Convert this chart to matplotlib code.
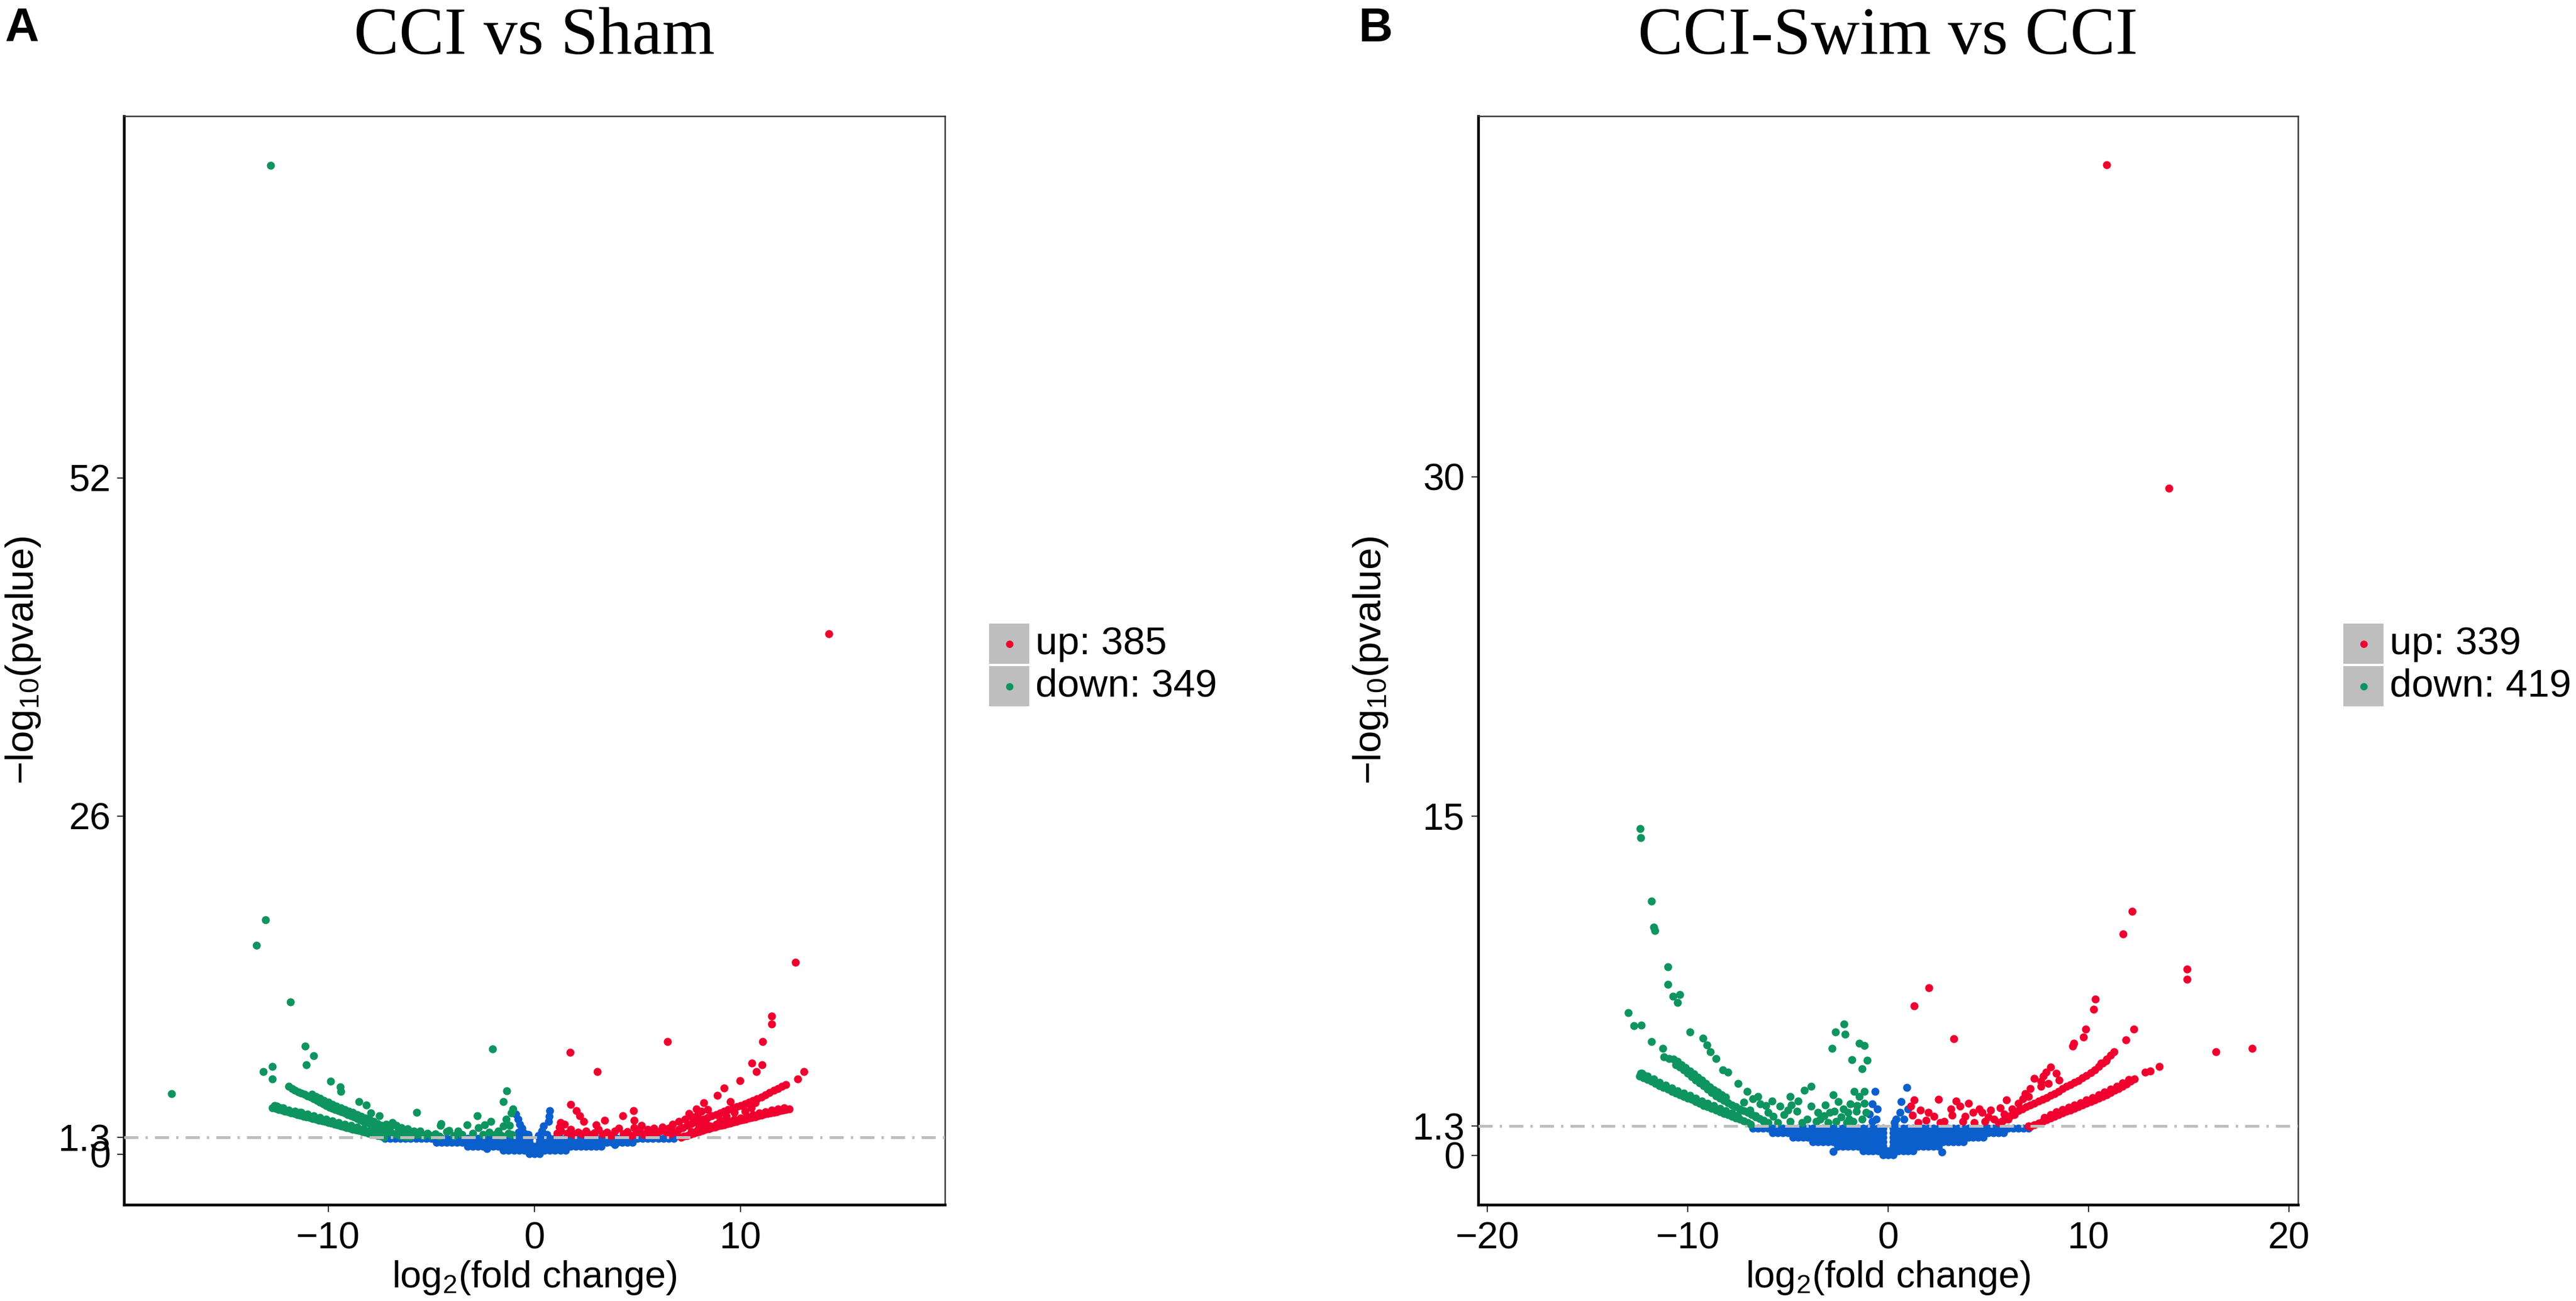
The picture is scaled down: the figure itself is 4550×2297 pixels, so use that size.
import matplotlib
matplotlib.use("Agg")
import matplotlib.pyplot as plt
from matplotlib.patches import Rectangle
from matplotlib.lines import Line2D

plt.rcParams['font.family'] = ['Liberation Sans', 'DejaVu Sans']
plt.rcParams['mathtext.fontset'] = 'custom'
plt.rcParams['mathtext.rm'] = 'Liberation Sans'
plt.rcParams['mathtext.it'] = 'Liberation Sans:italic'
plt.rcParams['mathtext.default'] = 'regular'
plt.rcParams['lines.scale_dashes'] = False

# colours of the three groups
UP = "#F0002E"
DOWN = "#0E945F"
NS = "#0A5FCD"

titles = ["CCI vs Sham", "CCI-Swim vs CCI"]
panel_tags = ["A", "B"]
up_counts = [385, 339]
down_counts = [349, 419]
threshold = 1.3

# ---------------- panel A : CCI vs Sham ----------------
xticks_a = [-10, 0, 10]
xlabels_a = ["\u221210", "0", "10"]
yticks_a = [0, 1.3, 26, 52]
ylabels_a = ["0", "1.3", "26", "52"]

down_a = [(-12.8, 76.0), (-13.03, 18.04), (-13.48, 16.04), (-11.84, 11.69), (-17.59, 4.66),
          (-11.11, 8.33), (-10.7, 7.57), (-11.06, 6.86), (-13.15, 6.33), (-12.72, 6.76),
          (-12.7, 5.79), (-9.89, 5.61), (-9.41, 5.16), (-9.38, 4.83), (-2.03, 8.09),
          (-1.34, 4.86), (-1.5, 4.04), (-5.7, 3.21), (-2.77, 2.97), (-2.12, 2.54),
          (-4.53, 2.33), (-3.28, 2.26), (-8.52, 4.04), (-8.15, 3.79), (-7.94, 3.19),
          (-7.51, 2.97), (-1.05, 3.47), (-1.38, 2.69),
          (-7.2, 2.3), (-7.0, 2.1), (-6.9, 2.45), (-6.7, 2.2), (-6.6, 1.9), (-6.45, 2.05),
          (-6.3, 1.75), (-6.15, 1.95), (-6.0, 1.6), (-5.85, 1.8), (-5.7, 1.5), (-5.55, 1.76),
          (-5.4, 1.45), (-5.2, 1.6), (-5.0, 1.42), (-4.8, 1.55), (-4.6, 1.4), (-4.14, 1.83),
          (-3.71, 1.76), (-3.9, 1.45), (-3.5, 1.5), (-3.0, 1.6), (-2.73, 2.04), (-2.5, 1.5),
          (-2.42, 2.26), (-2.2, 1.7), (-1.9, 1.5), (-1.75, 1.76), (-1.6, 1.45), (-1.5, 2.19),
          (-1.25, 1.6), (-1.13, 3.19), (-1.2, 2.2), (-1.1, 1.5), (-4.56, 2.22), (-4.25, 1.75)]

down_a_band_lo = [(-12.7, 3.56), (-12.55, 3.5), (-12.4, 3.43), (-12.25, 3.37), (-12.1, 3.31),
                  (-11.95, 3.25), (-11.8, 3.18), (-11.65, 3.12), (-11.5, 3.06), (-11.35, 3.0),
                  (-11.2, 2.93), (-11.05, 2.87), (-10.9, 2.81), (-10.75, 2.75), (-10.6, 2.68),
                  (-10.45, 2.62), (-10.3, 2.56), (-10.15, 2.5), (-10.0, 2.43), (-9.85, 2.37),
                  (-9.7, 2.31), (-9.55, 2.25), (-9.4, 2.18), (-9.25, 2.12), (-9.1, 2.06),
                  (-8.95, 2.0), (-8.8, 1.93), (-8.65, 1.87), (-8.5, 1.81), (-8.35, 1.75),
                  (-8.2, 1.68), (-8.05, 1.62), (-7.9, 1.56), (-7.75, 1.5), (-7.6, 1.43),
                  (-7.45, 1.37), (-7.3, 1.31), (-12.6, 3.72), (-12.3, 3.58), (-11.9, 3.4),
                  (-11.4, 3.2),
                  (-12.5, 3.7), (-12.2, 3.57), (-11.6, 3.32), (-11.3, 3.2), (-11.0, 3.07),
                  (-10.7, 2.95), (-10.4, 2.82), (-10.1, 2.7), (-9.8, 2.57), (-9.5, 2.45),
                  (-9.2, 2.32), (-8.9, 2.2), (-8.6, 2.07), (-8.3, 1.95), (-8.0, 1.82),
                  (-7.7, 1.7)]

down_a_band_hi = [(-11.9, 5.22), (-11.75, 5.06), (-11.6, 4.92), (-11.45, 4.77), (-11.3, 4.68),
                  (-11.15, 4.59), (-11.0, 4.5), (-10.85, 4.38), (-10.7, 4.25), (-10.55, 4.12),
                  (-10.4, 3.99), (-10.25, 3.87), (-10.1, 3.75), (-9.95, 3.63), (-9.8, 3.51),
                  (-9.65, 3.42), (-9.5, 3.34), (-9.35, 3.26), (-9.2, 3.17), (-9.05, 3.06),
                  (-8.9, 2.96), (-8.75, 2.85), (-8.6, 2.75), (-8.45, 2.64), (-8.3, 2.54),
                  (-8.15, 2.43), (-8.0, 2.33), (-7.85, 2.22), (-7.7, 2.12), (-7.55, 2.01),
                  (-7.4, 1.91), (-7.25, 1.81), (-7.1, 1.72), (-6.95, 1.63), (-6.8, 1.55),
                  (-6.65, 1.5), (-6.5, 1.45), (-6.35, 1.4), (-6.2, 1.36), (-6.05, 1.33),
                  (-10.8, 4.62), (-10.6, 4.45), (-10.4, 4.3), (-10.2, 4.15), (-10.0, 4.0),
                  (-9.8, 3.82), (-9.6, 3.7), (-9.4, 3.58), (-9.2, 3.45), (-9.0, 3.32),
                  (-8.8, 3.2), (-8.6, 3.05), (-8.4, 2.92), (-8.2, 2.78), (-8.0, 2.63),
                  (-7.8, 2.5), (-7.6, 2.36), (-7.4, 2.2), (-7.2, 2.08)]

up_a = [(14.26, 40.0), (12.66, 14.76), (11.5, 10.61), (11.5, 10.01), (11.07, 8.64),
        (6.44, 8.66), (1.72, 7.83), (3.04, 6.33), (10.55, 7.01), (11.04, 6.86),
        (10.77, 6.33), (13.07, 6.33), (12.76, 5.79), (9.96, 5.64), (9.2, 5.11),
        (8.86, 4.54), (1.76, 3.83), (2.03, 3.33), (2.19, 2.97), (3.4, 2.61), (4.27, 2.97),
        (4.79, 3.33), (4.83, 2.61), (4.83, 2.04), (9.51, 4.04), (8.22, 3.97), (7.85, 3.47),
        (10.71, 3.97),
        (1.1, 1.6), (1.2, 2.1), (1.3, 1.8), (1.45, 2.3), (1.6, 1.6), (1.75, 1.9), (1.9, 1.5),
        (2.1, 1.7), (2.3, 1.55), (2.5, 1.8), (2.7, 1.5), (2.9, 1.65), (3.1, 1.9), (3.3, 1.55),
        (3.5, 1.7), (3.7, 1.45), (3.9, 1.8), (4.1, 2.0), (4.3, 1.55), (4.5, 1.75), (4.7, 1.45),
        (4.9, 1.6), (5.1, 1.8), (5.3, 1.5), (5.5, 1.9), (5.6, 1.65), (5.8, 2.0), (5.9, 1.6),
        (6.1, 1.8), (6.2, 2.1), (6.4, 1.7), (6.5, 2.0), (6.6, 1.55), (6.7, 2.3), (6.9, 1.7),
        (7.0, 2.5), (7.3, 2.7), (7.6, 2.9), (7.5, 3.15), (7.9, 3.0), (8.1, 3.3), (8.4, 3.45),
        (8.0, 2.2), (8.3, 2.45), (9.0, 2.6), (9.3, 2.9), (9.7, 3.2), (10.2, 3.3), (10.5, 3.55),
        (5.2, 2.2), (3.0, 2.25), (2.4, 2.5), (1.25, 2.45)]

up_a_band_lo = [(7.1, 1.3), (7.25, 1.38), (7.4, 1.45), (7.55, 1.53), (7.7, 1.6), (7.85, 1.68),
                (8.0, 1.75), (8.15, 1.82), (8.3, 1.89), (8.45, 1.96), (8.6, 2.03), (8.75, 2.1),
                (8.9, 2.16), (9.05, 2.22), (9.2, 2.28), (9.35, 2.34), (9.5, 2.4), (9.65, 2.46),
                (9.8, 2.53), (9.95, 2.59), (10.1, 2.65), (10.25, 2.71), (10.4, 2.77),
                (10.55, 2.83), (10.7, 2.89), (10.85, 2.95), (11.0, 3.01), (11.15, 3.07),
                (11.3, 3.13), (11.45, 3.18), (11.6, 3.23), (11.75, 3.28), (11.9, 3.33),
                (12.05, 3.38), (12.2, 3.43), (12.35, 3.48),
                (7.6, 1.72), (7.9, 1.88), (8.2, 2.03), (8.5, 2.17), (8.8, 2.3), (9.1, 2.42),
                (9.4, 2.55), (9.7, 2.68), (10.0, 2.8), (10.3, 2.92), (10.6, 3.04),
                (10.9, 3.16), (11.2, 3.28), (11.5, 3.38), (11.8, 3.48), (12.1, 3.58)]

up_a_band_hi = [(6.8, 1.75), (7.0, 1.9), (7.2, 2.05), (7.4, 2.2), (7.6, 2.35), (7.8, 2.47),
                (8.0, 2.59), (8.2, 2.71), (8.4, 2.83), (8.6, 2.95), (8.8, 3.06), (9.0, 3.18),
                (9.2, 3.3), (9.4, 3.42), (9.6, 3.53), (9.8, 3.65), (10.0, 3.76), (10.2, 3.89),
                (10.4, 4.02), (10.6, 4.15), (10.8, 4.28), (11.0, 4.41), (11.2, 4.58),
                (11.4, 4.74), (11.6, 4.9), (11.8, 5.05), (12.0, 5.2), (12.2, 5.36)]

# non-significant cloud, read row by row (y level, x positions)
ns_a_rows = [
    (1.2, [-7.25, -7.0, -6.75, -6.5, -6.25, -6.0, -5.75, -5.5, -5.25, -5.0, -4.75, -4.5,
           -4.25, -4.0, -3.75, -3.5, -3.25, -3.0, -2.75, -2.5, -2.25, -2.0, -1.75, -1.5,
           -1.25, -1.0, -0.75, -0.5, -0.25, 0.25, 0.5, 0.75, 1.0, 1.25, 1.5, 1.75, 2.0,
           2.25, 2.5, 2.75, 3.0, 3.25, 3.5, 3.75, 4.0, 4.25, 4.5, 4.75, 5.0, 5.25, 5.5,
           5.75, 6.0, 6.25, 6.5, 6.75]),
    (0.9, [-4.75, -4.5, -4.25, -4.0, -3.75, -3.5, -3.25, -3.0, -2.75, -2.5, -2.25, -2.0,
           -1.75, -1.5, -1.25, -1.0, -0.75, -0.5, -0.25, 0.25, 0.5, 0.75, 1.0, 1.25, 1.5,
           1.75, 2.0, 2.25, 2.5, 2.75, 3.0, 3.25, 3.5, 3.75, 4.0, 4.25, 4.5, 4.75]),
    (0.6, [-3.25, -3.0, -2.75, -2.5, -2.25, -2.0, -1.75, -1.5, -1.25, -1.0, -0.75, -0.5,
           -0.25, 0.0, 0.25, 0.5, 0.75, 1.0, 1.25, 1.5, 1.75, 2.0, 2.25, 2.5, 2.75, 3.0,
           3.25]),
    (0.3, [-1.5, -1.25, -1.0, -0.75, -0.5, -0.25, 0.0, 0.25, 0.5, 0.75, 1.0, 1.25, 1.5]),
    (0.05, [-0.25, 0.0, 0.25]),
]
ns_a_extra = [(-0.9, 3.1), (-0.8, 2.7), (-0.7, 2.3), (-0.6, 2.0), (-0.77, 1.7), (-0.5, 1.6),
              (-0.89, 1.4), (0.74, 3.35), (0.7, 2.9), (0.68, 2.5), (0.44, 2.19), (0.37, 1.76),
              (0.6, 1.5), (-0.3, 1.5), (0.2, 1.45), (-2.3, 0.45), (3.9, 0.75)]

# ---------------- panel B : CCI-Swim vs CCI ----------------
xticks_b = [-20, -10, 0, 10, 20]
xlabels_b = ["\u221220", "\u221210", "0", "10", "20"]
yticks_b = [0, 1.3, 15, 30]
ylabels_b = ["0", "1.3", "15", "30"]

down_b = [(-12.38, 14.46), (-12.35, 14.05), (-11.81, 11.24), (-11.7, 10.08), (-11.65, 9.95),
          (-11.0, 8.34), (-11.0, 7.56), (-10.73, 7.03), (-10.4, 7.11), (-10.51, 6.77),
          (-12.96, 6.3), (-12.68, 5.74), (-12.31, 5.77), (-11.81, 5.04), (-9.88, 5.46),
          (-9.23, 5.18), (-9.04, 4.87), (-8.87, 4.57), (-8.58, 4.27), (-8.26, 3.79),
          (-8.0, 3.68), (-7.48, 3.17), (-11.25, 4.74), (-11.18, 4.35), (-10.92, 4.29),
          (-7.02, 2.84), (-6.76, 2.5), (-6.37, 2.28), (-5.98, 1.89), (-5.73, 1.72),
          (-5.4, 2.17), (-4.88, 2.61), (-4.82, 2.22), (-4.56, 1.94), (-4.17, 2.89),
          (-3.84, 3.06), (-3.84, 2.17), (-4.04, 1.61), (-3.39, 1.61), (-3.13, 2.22),
          (-2.8, 4.74), (-2.63, 5.46), (-2.19, 5.8), (-2.15, 5.35), (-2.74, 2.67),
          (-2.48, 2.39), (-2.22, 2.05), (-2.67, 1.94), (-1.44, 4.96), (-1.18, 4.85),
          (-1.8, 4.23), (-1.05, 4.2), (-1.31, 3.84), (-1.7, 2.84), (-1.18, 2.84),
          (-1.44, 2.61), (-1.89, 2.28), (-1.57, 1.94), (-1.96, 1.61),
          (-6.2, 1.5), (-5.5, 1.45), (-5.2, 1.8), (-4.9, 1.5), (-4.3, 1.45), (-3.6, 1.5),
          (-3.2, 1.75), (-3.0, 1.45), (-2.9, 1.9), (-2.6, 1.5), (-2.35, 1.7), (-2.05, 1.45),
          (-1.75, 1.5), (-1.55, 2.2), (-1.3, 1.6), (-1.1, 1.9), (-1.2, 2.3), (-2.0, 1.9),
          (-3.5, 1.9), (-4.5, 2.4), (-5.0, 2.0), (-6.6, 1.75), (-6.9, 2.0), (-7.2, 2.35),
          (-6.5, 2.6), (-6.1, 2.2), (-5.8, 2.4)]

down_b_band_lo = [(-12.4, 3.5), (-12.2, 3.43), (-12.0, 3.35), (-11.8, 3.27), (-11.6, 3.18),
                  (-11.4, 3.09), (-11.2, 3.0), (-11.0, 2.92), (-10.8, 2.83), (-10.6, 2.75),
                  (-10.4, 2.68), (-10.2, 2.61), (-10.0, 2.54), (-9.8, 2.47), (-9.6, 2.38),
                  (-9.4, 2.29), (-9.2, 2.21), (-9.0, 2.14), (-8.8, 2.07), (-8.6, 2.0),
                  (-8.4, 1.93), (-8.2, 1.86), (-8.0, 1.79), (-7.8, 1.72), (-7.6, 1.66),
                  (-7.4, 1.59), (-7.2, 1.53), (-7.0, 1.45), (-6.85, 1.38), (-12.35, 3.62),
                  (-12.2, 3.55),
                  (-12.3, 3.62), (-12.0, 3.5), (-11.7, 3.38), (-11.4, 3.24), (-11.1, 3.1),
                  (-10.8, 2.98), (-10.5, 2.86), (-10.2, 2.76), (-9.9, 2.65), (-9.6, 2.53),
                  (-9.3, 2.4), (-9.0, 2.29), (-8.7, 2.19), (-8.4, 2.08), (-8.1, 1.97),
                  (-7.8, 1.87), (-7.5, 1.77)]

down_b_band_hi = [(-10.6, 4.01), (-10.4, 3.9), (-10.2, 3.77), (-10.0, 3.63), (-9.8, 3.47),
                  (-9.6, 3.33), (-9.4, 3.2), (-9.2, 3.07), (-9.0, 2.93), (-8.8, 2.77),
                  (-8.6, 2.62), (-8.4, 2.52), (-8.2, 2.42), (-8.0, 2.32), (-7.8, 2.23),
                  (-7.6, 2.14), (-7.4, 2.05), (-7.2, 1.97), (-7.0, 1.89), (-6.8, 1.8),
                  (-6.6, 1.71), (-6.4, 1.62), (-6.2, 1.54), (-6.0, 1.46),
                  (-10.7, 4.25), (-10.5, 4.15), (-10.3, 4.0), (-10.1, 3.88), (-9.9, 3.74),
                  (-9.7, 3.6), (-9.5, 3.46), (-9.3, 3.32), (-9.1, 3.18), (-8.9, 3.04),
                  (-8.7, 2.9), (-8.5, 2.8), (-8.3, 2.68), (-8.1, 2.58)]

up_b = [(10.9, 43.8), (14.0, 29.5), (12.17, 10.8), (11.71, 9.8), (14.9, 8.24), (14.92, 7.78),
        (10.35, 6.92), (10.24, 6.45), (2.03, 7.4), (1.29, 6.62), (3.29, 5.16), (9.85, 5.58),
        (9.74, 5.22), (9.27, 4.96), (9.2, 4.82), (12.27, 5.58), (11.87, 5.11), (16.36, 4.59),
        (18.17, 4.74), (13.53, 3.92), (12.82, 3.68), (13.08, 3.73), (11.26, 4.57),
        (10.87, 4.18), (10.61, 4.09),
        (6.84, 2.73), (7.1, 2.95), (7.62, 3.06), (7.88, 3.68), (7.62, 3.28), (8.0, 3.17),
        (8.4, 3.62), (8.53, 3.34), (6.71, 2.5), (6.19, 2.05), (5.8, 1.83), (5.28, 1.61),
        (7.3, 3.4), (7.0, 2.6), (8.1, 3.9), (7.75, 3.5),
        (1.31, 2.45), (1.12, 2.17), (1.21, 1.78), (1.9, 1.55), (2.51, 2.48), (2.29, 1.72),
        (3.13, 2.05), (3.2, 1.78), (3.59, 2.17), (3.85, 1.72), (4.24, 1.89), (4.56, 2.05),
        (4.69, 1.89), (4.82, 1.5), (2.81, 1.5), (3.72, 1.5), (1.5, 1.45), (2.0, 1.9),
        (4.3, 1.45), (5.0, 1.7), (5.5, 1.45), (5.1, 2.0), (4.0, 2.3), (3.4, 2.4), (1.6, 2.0),
        (2.6, 1.45), (5.6, 2.1), (6.0, 1.6), (6.3, 1.8), (6.5, 2.3), (5.9, 2.45)]

up_b_band_hi = [(5.7, 1.52), (5.9, 1.64), (6.1, 1.76), (6.3, 1.88), (6.5, 1.97), (6.7, 2.05),
                (6.9, 2.14), (7.1, 2.22), (7.3, 2.31), (7.5, 2.4), (7.7, 2.48), (7.9, 2.56),
                (8.1, 2.65), (8.3, 2.73), (8.5, 2.84), (8.7, 2.95), (8.9, 3.05), (9.1, 3.14),
                (9.3, 3.22), (9.5, 3.31), (9.7, 3.42), (9.9, 3.54), (10.1, 3.66),
                (10.3, 3.79), (10.5, 3.93), (10.7, 4.08), (10.9, 4.26), (11.1, 4.44)]

up_b_band_lo = [(7.0, 1.3), (7.1, 1.28), (7.3, 1.36), (7.5, 1.43), (7.7, 1.5), (7.9, 1.58),
                (8.1, 1.66), (8.3, 1.73), (8.5, 1.8), (8.7, 1.87), (8.9, 1.94), (9.1, 2.01),
                (9.3, 2.08), (9.5, 2.15), (9.7, 2.22), (9.9, 2.3), (10.1, 2.37), (10.3, 2.45),
                (10.5, 2.53), (10.7, 2.61), (10.9, 2.69), (11.1, 2.78), (11.3, 2.87),
                (11.5, 2.95), (11.7, 3.05), (11.9, 3.16), (12.1, 3.27), (12.3, 3.39),
                (7.8, 1.68), (8.1, 1.8), (8.4, 1.92), (8.7, 2.02), (9.0, 2.12), (9.3, 2.23),
                (9.6, 2.33), (9.9, 2.45), (10.2, 2.56), (10.5, 2.68), (10.8, 2.8),
                (11.1, 2.93), (11.4, 3.06), (11.7, 3.2), (12.0, 3.35)]

ns_b_rows = [
    (1.2, [-6.75, -6.5, -6.25, -6.0, -5.75, -5.5, -5.25, -5.0, -4.75, -4.5, -4.25, -4.0,
           -3.75, -3.5, -3.25, -3.0, -2.75, -2.5, -2.25, -2.0, -1.75, -1.5, -1.25, -1.0,
           -0.75, -0.5, -0.25, 0.25, 0.5, 0.75, 1.0, 1.25, 1.5, 1.75, 2.0, 2.25, 2.5, 2.75,
           3.0, 3.25, 3.5, 3.75, 4.0, 4.25, 4.5, 4.75, 5.0, 5.25, 5.5, 5.75, 6.0, 6.25,
           6.5, 6.75, 7.0]),
    (1.0, [-5.75, -5.5, -5.25, -5.0, -4.75, -4.5, -4.25, -4.0, -3.75, -3.5, -3.25, -3.0,
           -2.75, -2.5, -2.25, -2.0, -1.75, -1.5, -1.25, -1.0, -0.75, -0.5, -0.25, 0.25,
           0.5, 0.75, 1.0, 1.25, 1.5, 1.75, 2.0, 2.25, 2.5, 2.75, 3.0, 3.25, 3.5, 3.75,
           4.0, 4.25, 4.5, 4.75, 5.0, 5.25, 5.5, 5.75]),
    (0.8, [-4.75, -4.5, -4.25, -4.0, -3.75, -3.5, -3.25, -3.0, -2.75, -2.5, -2.25, -2.0,
           -1.75, -1.5, -1.25, -1.0, -0.75, -0.5, -0.25, 0.25, 0.5, 0.75, 1.0, 1.25, 1.5,
           1.75, 2.0, 2.25, 2.5, 2.75, 3.0, 3.25, 3.5, 3.75, 4.0, 4.25, 4.5, 4.75]),
    (0.6, [-3.75, -3.5, -3.25, -3.0, -2.75, -2.5, -2.25, -2.0, -1.75, -1.5, -1.25, -1.0,
           -0.75, -0.5, -0.25, 0.25, 0.5, 0.75, 1.0, 1.25, 1.5, 1.75, 2.0, 2.25, 2.5,
           2.75, 3.0, 3.25, 3.5, 3.75]),
    (0.4, [-2.5, -2.25, -2.0, -1.75, -1.5, -1.25, -1.0, -0.75, -0.5, -0.25, 0.25, 0.5,
           0.75, 1.0, 1.25, 1.5, 1.75, 2.0, 2.25, 2.5]),
    (0.2, [-1.25, -1.0, -0.75, -0.5, -0.25, 0.0, 0.25, 0.5, 0.75, 1.0, 1.25]),
    (0.03, [-0.25, 0.0, 0.25]),
]
ns_b_extra = [(-0.66, 2.84), (-0.79, 2.28), (-0.53, 2.05), (-0.92, 1.83), (-0.6, 1.6),
              (-0.8, 1.5), (0.92, 3.0), (0.66, 2.39), (0.99, 2.05), (0.6, 1.89), (0.4, 1.6),
              (0.8, 1.6), (0.3, 1.45), (-2.74, 0.18), (2.68, 0.15)]


W, H = 4550, 2297
fig = plt.figure(figsize=(W / 200, H / 200), dpi=200)
PT = 26  # marker area in pt^2 (about 14 px across)


def pts(*groups):
    out = []
    for g in groups:
        out.extend(g)
    return [p[0] for p in out], [p[1] for p in out]


def draw_panel(rect, ns_rows, ns_extra, down, up, xlim, ylim, xt, xl, yt, yl):
    ax = fig.add_axes(rect)
    ns = [(x, y) for y, xs in ns_rows for x in xs] + ns_extra
    ax.scatter(*pts(ns), s=PT, c=NS, linewidths=0, zorder=2)
    ax.scatter(*pts(*down), s=PT, c=DOWN, linewidths=0, zorder=2)
    ax.scatter(*pts(*up), s=PT, c=UP, linewidths=0, zorder=2)
    ax.axhline(threshold, color="#BEBEBE", lw=1.8, dashes=(9, 4.5, 1.5, 4.5), zorder=3)
    ax.set_xlim(*xlim)
    ax.set_ylim(*ylim)
    ax.set_xticks(xt, xl)
    ax.set_yticks(yt, yl)
    ax.tick_params(axis="both", direction="out", length=4.5, width=0.8,
                   color="#333333", labelsize=24, labelcolor="black")
    ax.tick_params(axis="x", pad=6)
    ax.tick_params(axis="y", pad=4)
    for s in ("left", "bottom"):
        ax.spines[s].set_linewidth(1.7)
        ax.spines[s].set_color("black")
    for s in ("top", "right"):
        ax.spines[s].set_linewidth(0.9)
        ax.spines[s].set_color("#333333")
    ax.set_xlabel("log$_2$(fold change)", fontsize=24)
    ax.set_ylabel("\u2212log$_{10}$(pvalue)", fontsize=25)
    ax.xaxis.set_label_coords(0.5, -0.05)
    return ax


ax_a = draw_panel([219 / W, 1 - 2127 / H, 1450 / W, 1922 / H], ns_a_rows, ns_a_extra,
                  [down_a, down_a_band_lo, down_a_band_hi], [up_a, up_a_band_lo, up_a_band_hi],
                  (-19.9, 19.9), (-3.88, 79.8), xticks_a, xlabels_a, yticks_a, ylabels_a)
ax_a.yaxis.set_label_coords(-0.099, 0.5)

ax_b = draw_panel([2611 / W, 1 - 2127 / H, 1448 / W, 1922 / H], ns_b_rows, ns_b_extra,
                  [down_b, down_b_band_lo, down_b_band_hi], [up_b, up_b_band_hi, up_b_band_lo],
                  (-20.45, 20.45), (-2.18, 45.95), xticks_b, xlabels_b, yticks_b, ylabels_b)
ax_b.yaxis.set_label_coords(-0.108, 0.5)

# titles and panel tags
for i, cx in enumerate([944, 3335]):
    fig.text(cx / W, 1 - 95 / H, titles[i], ha="center", va="baseline",
             family=["Liberation Serif", "DejaVu Serif"], fontsize=43)
for i, lx in enumerate([9, 2399]):
    fig.text(lx / W, 1 - 12 / H, panel_tags[i], ha="left", va="top",
             fontsize=30, fontweight="bold")

# legends (grey key squares with a coloured dot)
for i, kx in enumerate([1747, 4139]):
    labels = ["up: %d" % up_counts[i], "down: %d" % down_counts[i]]
    for j, (lab, col) in enumerate(zip(labels, [UP, DOWN])):
        top = 1101 + j * 75
        fig.add_artist(Rectangle((kx / W, 1 - (top + 71) / H), 71 / W, 71 / H,
                                 transform=fig.transFigure, facecolor="#BEBEBE",
                                 edgecolor="none"))
        fig.add_artist(Line2D([(kx + 35.5) / W], [1 - (top + 35.5) / H], marker="o",
                              ms=4.7, mew=0, color=col, lw=0, transform=fig.transFigure))
        fig.text((kx + 82) / W, 1 - (top + 35.5) / H, lab, ha="left", va="center",
                 fontsize=25)

fig.savefig("out.png", dpi=200)
